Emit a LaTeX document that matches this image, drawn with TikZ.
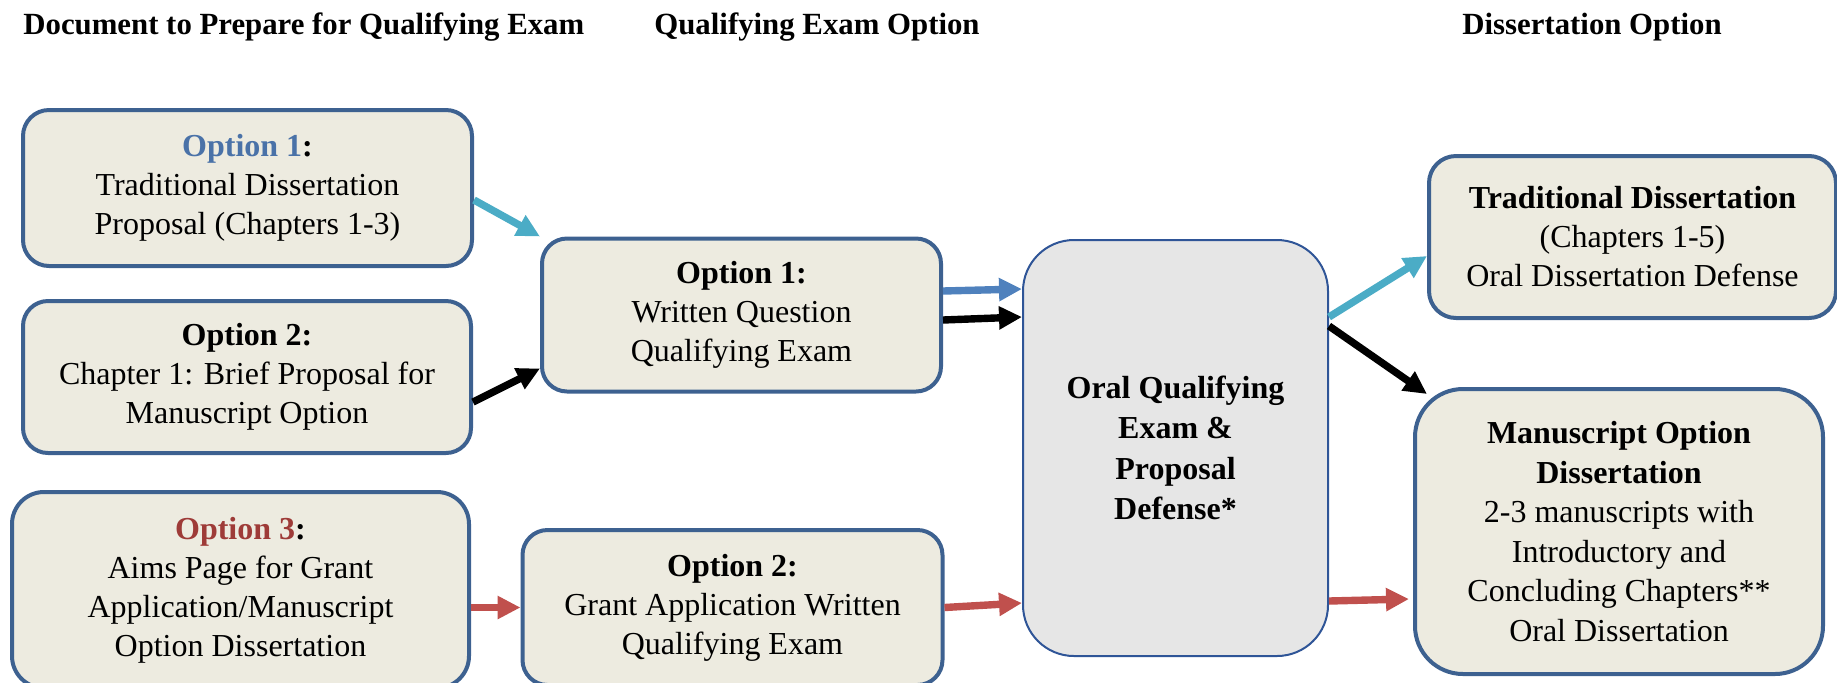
\documentclass[tikz,border=0pt]{standalone}
\usepackage{fontspec}
\setmainfont{Liberation Serif}
\usetikzlibrary{arrows.meta}
\definecolor{boxline}{HTML}{3D6190}
\definecolor{boxfill}{HTML}{EDEBE0}
\definecolor{oralfill}{HTML}{E6E6E6}
\definecolor{oralline}{HTML}{2F5597}
\definecolor{aqua}{HTML}{4BACC6}
\definecolor{steel}{HTML}{4F81BD}
\definecolor{brick}{HTML}{C0504D}
\definecolor{optblue}{HTML}{4A72A8}
\definecolor{optred}{HTML}{9E3B38}
\begin{document}
\begin{tikzpicture}[x=0.5pt,y=-0.5pt,
  box/.style={draw=boxline,fill=boxfill,line width=2pt,align=center,inner sep=0pt,
    font=\fontsize{16}{19.5}\selectfont},
  head/.style={anchor=west,inner sep=0pt,font=\fontsize{15.4}{18}\selectfont\bfseries},
  flow/.style={line width=3.7pt,-{Triangle[length=11.5pt,width=11pt]}}]
\useasboundingbox (0,0) rectangle (1837,682);
% column titles
\node[head] (hdoc) at (23,27) {Document to Prepare for Qualifying Exam};
\node[head] (hqe) at (654,27) {Qualifying Exam Option};
\node[head] (hdiss) at (1462,27) {Dissertation Option};
% documents
\node[box,minimum width=224.5pt,minimum height=78pt,rounded corners=13pt] (tradprop) at (247.5,188)
  {\textbf{\textcolor{optblue}{Option 1}:}\\Traditional Dissertation\\Proposal (Chapters 1-3)};
\node[box,minimum width=224pt,minimum height=76pt,rounded corners=12.5pt] (briefprop) at (247,377)
  {\textbf{Option 2:}\\Chapter 1: Brief Proposal for\\Manuscript Option};
\node[box,minimum width=228.5pt,minimum height=98pt,rounded corners=16pt] (aims) at (240.5,590)
  {\textbf{\textcolor{optred}{Option 3}:}\\Aims Page for Grant\\Application/Manuscript\\Option Dissertation};
% qualifying exams
\node[box,minimum width=199.5pt,minimum height=76.5pt,rounded corners=12.5pt] (writtenqe) at (741.5,315)
  {\textbf{Option 1:}\\Written Question\\Qualifying Exam};
\node[box,minimum width=210pt,minimum height=77.5pt,rounded corners=12.5pt] (grantqe) at (732.5,607.5)
  {\textbf{Option 2:}\\Grant Application Written\\Qualifying Exam};
\node[box,draw=oralline,fill=oralfill,line width=1pt,minimum width=152.5pt,minimum height=208pt,
  rounded corners=25.5pt,font=\fontsize{16}{20.2}\selectfont\bfseries] (oral) at (1175.5,448)
  {Oral Qualifying\\Exam \&\\Proposal\\Defense*};
% dissertations
\node[box,minimum width=203.5pt,minimum height=81pt,rounded corners=13.5pt] (tradiss) at (1632.5,237)
  {\textbf{Traditional Dissertation}\\(Chapters 1-5)\\Oral Dissertation Defense};
\node[box,minimum width=204pt,minimum height=142.5pt,rounded corners=24pt,
  font=\fontsize{16}{19.8}\selectfont] (manudiss) at (1619,531.5)
  {\textbf{Manuscript Option}\\\textbf{Dissertation}\\2-3 manuscripts with\\Introductory and\\Concluding Chapters**\\Oral Dissertation};
% arrows
\draw[flow,aqua] ([yshift=-6pt]tradprop.east) -- (writtenqe.north west);
\draw[flow,black] ([yshift=-12.5pt]briefprop.east) -- ([yshift=12.5pt]writtenqe.south west);
\draw[flow,steel] ([yshift=12pt]writtenqe.east) -- ([yshift=-25pt]oral.north west);
\draw[flow,black] ([yshift=-2.5pt]writtenqe.east) -- ([yshift=-39pt]oral.north west);
\draw[flow,brick] (aims.east |- grantqe.west) -- (grantqe.west);
\draw[flow,brick] (grantqe.east) -- ([yshift=27pt]oral.south west);
\draw[flow,aqua] ([yshift=-39pt]oral.north east) -- ([yshift=-9.5pt]tradiss.west);
\draw[flow,black] ([yshift=-43.5pt]oral.north east) -- ([xshift=7pt,yshift=-3.5pt]manudiss.north west);
\draw[flow,brick] ([yshift=28pt]oral.south east) -- ([xshift=-2pt,yshift=-33.75pt]manudiss.west);
\end{tikzpicture}
\end{document}
